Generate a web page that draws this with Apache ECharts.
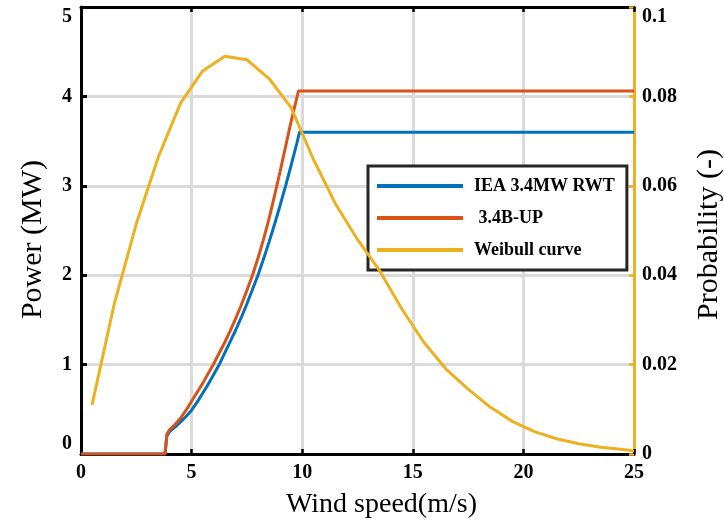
<!DOCTYPE html>
<html>
<head>
<meta charset="utf-8">
<script src="https://cdn.jsdelivr.net/npm/echarts@6/dist/echarts.min.js"></script>
<style>
  html, body { margin: 0; padding: 0; background: #fff; }
  #chart { width: 724px; height: 526px; }
</style>
</head>
<body>
<div id="chart"></div>
<script>
// power curves (MW) vs wind speed (m/s)
const rwtSpeed = [0, 3.8, 3.88, 4, 4.25, 4.5, 4.75, 5, 5.25, 5.5, 5.75, 6, 6.25, 6.5, 6.75, 7,
  7.25, 7.5, 7.75, 8, 8.25, 8.5, 8.75, 9, 9.25, 9.5, 9.75, 9.88, 25]
const rwtPower = [0, 0, 0.2, 0.25, 0.3, 0.36, 0.42, 0.49, 0.58, 0.68, 0.78, 0.89, 1.0, 1.13, 1.26, 1.39,
  1.53, 1.68, 1.84, 2.0, 2.18, 2.37, 2.57, 2.78, 3.0, 3.23, 3.47, 3.6, 3.6]
const upSpeed = [0, 3.8, 3.88, 4, 4.25, 4.5, 4.75, 5, 5.25, 5.5, 5.75, 6, 6.25, 6.5, 6.75, 7,
  7.25, 7.5, 7.75, 8, 8.25, 8.5, 8.75, 9, 9.25, 9.5, 9.83, 25]
const upPower = [0, 0, 0.22, 0.27, 0.33, 0.4, 0.49, 0.59, 0.69, 0.79, 0.9, 1.01, 1.13, 1.25, 1.38, 1.52,
  1.67, 1.83, 2.0, 2.19, 2.4, 2.63, 2.89, 3.16, 3.44, 3.72, 4.06, 4.06]
// weibull probability
const weibullSpeed = [0.5, 1.5, 2.5, 3.5, 4.5, 5.5, 6.5, 7.5, 8.5, 9.5, 10.5, 11.5, 12.5,
  13.5, 14.5, 15.5, 16.5, 17.5, 18.5, 19.5, 20.5, 21.5, 22.5, 23.5, 24.5, 25]
const weibullProb = [0.011, 0.0335, 0.0515, 0.0665, 0.0785, 0.0857, 0.089, 0.0882, 0.084, 0.0775,
  0.066, 0.056, 0.048, 0.041, 0.0325, 0.025, 0.019, 0.0145, 0.0105, 0.0073, 0.005, 0.0034,
  0.0023, 0.0015, 0.001, 0.0007]
const seriesNames = ['IEA 3.4MW RWT', ' 3.4B-UP', 'Weibull curve']

const zip = (xs, ys) => xs.map((x, i) => [x, ys[i]])

const serif = 'Liberation Serif, Times New Roman, serif'
const gridColor = '#dadada'
const yellow = '#EDB120'

const tickLabel = { color: '#000', fontFamily: serif, fontWeight: 'bold', fontSize: 20 }

const option = {
  animation: false,
  backgroundColor: '#fff',
  grid: { left: 81, right: 90, top: 7, bottom: 72, outerBoundsMode: 'none', containLabel: false },
  legend: {
    left: 368,
    top: 166,
    orient: 'vertical',
    icon: 'rect',
    itemWidth: 86,
    itemHeight: 4,
    itemGap: 10,
    padding: [9, 12, 9, 9],
    borderColor: '#262626',
    borderWidth: 3,
    backgroundColor: '#fff',
    textStyle: {
      color: '#000',
      fontFamily: serif,
      fontWeight: 'bold',
      fontSize: 18,
      lineHeight: 22,
      padding: [0, 0, 0, 6],
    },
    data: seriesNames,
  },
  xAxis: [
    {
      type: 'value',
      min: 0,
      max: 25,
      interval: 5,
      name: 'Wind speed(m/s)',
      nameLocation: 'middle',
      nameGap: 37,
      nameTextStyle: { color: '#000', fontFamily: serif, fontSize: 28, padding: [0, 0, 0, 48] },
      axisLine: { onZero: false, lineStyle: { color: '#000', width: 3 } },
      axisTick: { inside: true, length: 5, lineStyle: { color: '#000', width: 2.5 } },
      axisLabel: Object.assign({ margin: 9 }, tickLabel),
      splitLine: { show: true, lineStyle: { color: gridColor, width: 3 } },
    },
    {
      // top frame line
      type: 'value',
      position: 'top',
      min: 0,
      max: 25,
      interval: 5,
      axisLine: { onZero: false, lineStyle: { color: '#000', width: 3 } },
      axisTick: { inside: true, length: 5, lineStyle: { color: '#000', width: 2.5 } },
      axisLabel: { show: false },
      splitLine: { show: false },
    },
  ],
  yAxis: [
    {
      type: 'value',
      min: 0,
      max: 5,
      interval: 1,
      name: 'Power (MW)',
      nameLocation: 'middle',
      nameGap: 33,
      nameTextStyle: { color: '#000', fontFamily: serif, fontSize: 30, padding: [0, 18, 0, 0] },
      axisLine: { onZero: false, lineStyle: { color: '#000', width: 3 } },
      axisTick: { inside: true, length: 6, lineStyle: { color: '#000', width: 3 } },
      axisLabel: Object.assign({ margin: 9, verticalAlignMinLabel: 'bottom', verticalAlignMaxLabel: 'top' }, tickLabel),
      splitLine: { show: true, lineStyle: { color: gridColor, width: 3 } },
    },
    {
      type: 'value',
      min: 0,
      max: 0.1,
      interval: 0.02,
      position: 'right',
      name: 'Probability (-)',
      nameLocation: 'middle',
      nameGap: 60,
      nameTextStyle: { color: '#000', fontFamily: serif, fontSize: 30, padding: [0, 8, 0, 0] },
      axisLine: { onZero: false, lineStyle: { color: yellow, width: 3 } },
      axisTick: { inside: true, length: 5, lineStyle: { color: yellow, width: 2.5 } },
      axisLabel: Object.assign({ margin: 8, verticalAlignMaxLabel: 'top' }, tickLabel),
      splitLine: { show: false },
    },
  ],
  series: [
    {
      name: seriesNames[0],
      type: 'line',
      data: zip(rwtSpeed, rwtPower),
      showSymbol: false,
      lineStyle: { color: '#0072BD', width: 3 },
      itemStyle: { color: '#0072BD' },
      z: 2,
    },
    {
      name: seriesNames[1],
      type: 'line',
      data: zip(upSpeed, upPower),
      showSymbol: false,
      lineStyle: { color: '#D95319', width: 3 },
      itemStyle: { color: '#D95319' },
      z: 3,
    },
    {
      name: seriesNames[2],
      type: 'line',
      yAxisIndex: 1,
      data: zip(weibullSpeed, weibullProb),
      showSymbol: false,
      lineStyle: { color: yellow, width: 3 },
      itemStyle: { color: yellow },
      z: 4,
    },
  ],
}

const myChart = echarts.init(document.getElementById('chart'))
myChart.setOption(option, true)
</script>
</body>
</html>
